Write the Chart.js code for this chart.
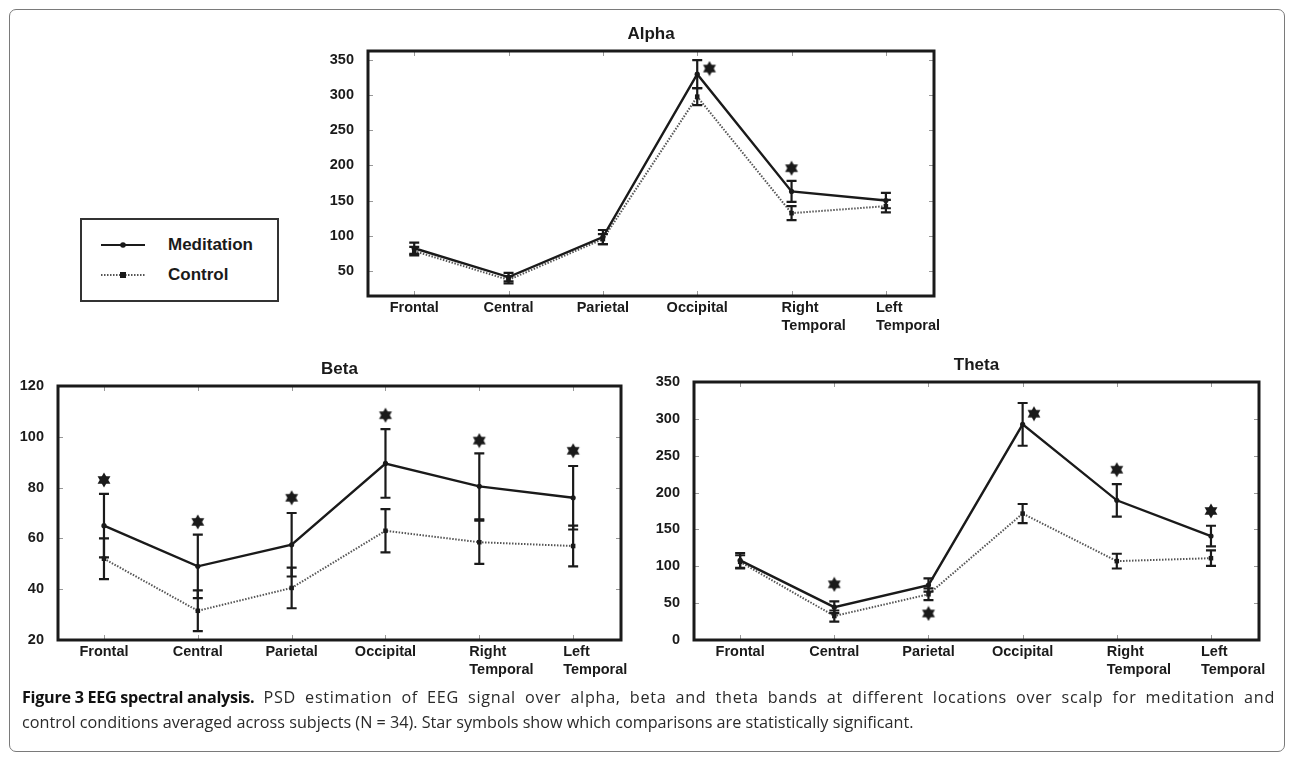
<!DOCTYPE html>
<html>
<head>
<meta charset="utf-8">
<script src="https://cdn.jsdelivr.net/npm/chart.js@4.4.0/dist/chart.umd.min.js"></script>
<style>
  html, body { margin: 0; padding: 0; background: #fff; }
  body { width: 1293px; height: 760px; position: relative; overflow: hidden; font-family: "Liberation Sans", Arial, sans-serif; }
  #frame { position: absolute; left: 9px; top: 9px; width: 1276px; height: 743px; border: 1.5px solid #7a7a7a; border-radius: 7px; box-sizing: border-box; }
  canvas { position: absolute; }
  #legend { position: absolute; left: 80px; top: 218px; width: 199px; height: 84px; border: 2px solid #333; box-sizing: border-box; }
  #legend svg { position: absolute; left: 0; top: 0; }
  #legend .lbl { position: absolute; left: 86px; font-weight: bold; font-size: 17px; color: #1a1a1a; line-height: 20px; }
  #caption { position: absolute; left: 22px; top: 685px; width: 1253px; font-family: "Open Sans", sans-serif; font-size: 16.2px; line-height: 25px; color: #2a2a2a; }
  #caption div { white-space: nowrap; }
  #caption .first { text-align: justify; text-align-last: justify; white-space: normal; letter-spacing: 0.7px; }
  #caption b { display: inline-block; color: #111; letter-spacing: -0.3px; }
</style>
</head>
<body>
<div id="frame"></div>

<canvas id="alphaChart"></canvas>
<canvas id="betaChart"></canvas>
<canvas id="thetaChart"></canvas>

<div id="legend">
  <svg width="199" height="84">
    <line x1="19" y1="25" x2="63" y2="25" stroke="#1a1a1a" stroke-width="2.2"/>
    <circle cx="41" cy="25" r="2.8" fill="#1a1a1a"/>
    <line x1="19" y1="55" x2="63" y2="55" stroke="#555" stroke-width="2" stroke-dasharray="1.5 1.5"/>
    <rect x="38" y="52" width="6" height="6" fill="#1a1a1a"/>
  </svg>
  <div class="lbl" style="top:15px">Meditation</div>
  <div class="lbl" style="top:45px">Control</div>
</div>

<div id="caption">
  <div class="first"><b>Figure 3 EEG spectral analysis.</b> PSD estimation of EEG signal over alpha, beta and theta bands at different locations over scalp for meditation and</div>
  <div>control conditions averaged across subjects (N = 34). Star symbols show which comparisons are statistically significant.</div>
</div>

<script>
const categories = ['Frontal', 'Central', 'Parietal', 'Occipital', 'Right Temporal', 'Left Temporal'];

// ---------------- Alpha ----------------
const alphaMeditation = [82, 41, 98, 330, 163, 150];
const alphaMeditationErr = [8, 6, 10, 20, 15, 11];
const alphaControl = [78, 37, 95, 298, 132, 142];
const alphaControlErr = [6, 5, 7, 12, 10, 9];
const alphaStarX = [3.13, 4];
const alphaStarY = [338, 196];
const alphaTicks = [50, 100, 150, 200, 250, 300, 350];

// ---------------- Beta ----------------
const betaMeditation = [65, 49, 57.5, 89.5, 80.5, 76];
const betaMeditationErr = [12.5, 12.5, 12.5, 13.5, 13, 12.5];
const betaControl = [52, 31.5, 40.5, 63, 58.5, 57];
const betaControlErr = [8, 8, 8, 8.5, 8.5, 8];
const betaStarX = [0, 1, 2, 3, 4, 5];
const betaStarY = [83, 66.5, 76, 108.5, 98.5, 94.5];
const betaTicks = [20, 40, 60, 80, 100, 120];

// ---------------- Theta ----------------
const thetaMeditation = [108, 44.5, 74.5, 292.5, 189.5, 141];
const thetaMeditationErr = [10, 8, 9, 29, 22, 14];
const thetaControl = [106, 32.5, 62, 171.5, 107, 111];
const thetaControlErr = [9, 7.5, 8, 13, 10, 10.5];
const thetaStarX = [1, 2, 3.12, 4, 5];
const thetaStarY = [75.5, 36, 307, 231, 175];
const thetaTicks = [0, 50, 100, 150, 200, 250, 300, 350];

const INK = '#1a1a1a';
const FONT = '"Liberation Sans", Arial, sans-serif';

// Estrella de seis puntas para marcar diferencias significativas
function makeStar() {
    const c = document.createElement('canvas');
    c.width = 16; c.height = 16;
    const g = c.getContext('2d');
    g.fillStyle = INK;
    [-90, 90].forEach(start => {
        g.beginPath();
        for (let k = 0; k < 3; k++) {
            const a = (start + k * 120) * Math.PI / 180;
            const px = 8 + 7.4 * Math.cos(a), py = 8 + 7.4 * Math.sin(a);
            k === 0 ? g.moveTo(px, py) : g.lineTo(px, py);
        }
        g.closePath();
        g.fill();
    });
    return c;
}
const starImg = makeStar();

// Barras de error, marco, marcas interiores, etiquetas y título
const eegDecor = {
    id: 'eegDecor',
    afterDatasetsDraw(chart) {
        const { ctx, scales: { x, y } } = chart;
        ctx.save();
        ctx.strokeStyle = INK;
        ctx.lineWidth = 2.2;
        chart.data.datasets.forEach(ds => {
            if (!ds.errors) return;
            ds.data.forEach((p, i) => {
                const px = x.getPixelForValue(p.x);
                const hi = y.getPixelForValue(p.y + ds.errors[i]);
                const lo = y.getPixelForValue(p.y - ds.errors[i]);
                ctx.beginPath();
                ctx.moveTo(px, hi); ctx.lineTo(px, lo);
                ctx.moveTo(px - 5, hi); ctx.lineTo(px + 5, hi);
                ctx.moveTo(px - 5, lo); ctx.lineTo(px + 5, lo);
                ctx.stroke();
            });
        });
        ctx.restore();
    },
    afterDraw(chart, args, opts) {
        const { ctx, chartArea: a, scales: { x, y } } = chart;
        ctx.save();

        ctx.strokeStyle = '#999';
        ctx.lineWidth = 1;
        ctx.beginPath();
        categories.forEach((c, i) => {
            const px = Math.round(x.getPixelForValue(i)) + 0.5;
            ctx.moveTo(px, a.bottom); ctx.lineTo(px, a.bottom - 5);
            ctx.moveTo(px, a.top); ctx.lineTo(px, a.top + 5);
        });
        y.ticks.forEach(t => {
            const py = Math.round(y.getPixelForValue(t.value)) + 0.5;
            ctx.moveTo(a.left, py); ctx.lineTo(a.left + 5, py);
            ctx.moveTo(a.right, py); ctx.lineTo(a.right - 5, py);
        });
        ctx.stroke();

        ctx.strokeStyle = INK;
        ctx.lineWidth = 3;
        ctx.strokeRect(a.left, a.top, a.right - a.left, a.bottom - a.top);

        ctx.fillStyle = INK;
        ctx.font = 'bold 14.5px ' + FONT;
        ctx.textBaseline = 'middle';
        categories.forEach((c, i) => {
            const px = x.getPixelForValue(i);
            const lines = c.split(' ');
            if (lines.length === 1) {
                ctx.textAlign = 'center';
                ctx.fillText(c, px, a.bottom + 12);
            } else {
                ctx.textAlign = 'left';
                lines.forEach((l, k) => ctx.fillText(l, px - 10, a.bottom + 12 + k * 18));
            }
        });

        ctx.font = 'bold 17px ' + FONT;
        ctx.textAlign = 'center';
        ctx.fillText(opts.title, (a.left + a.right) / 2, a.top - 17);
        ctx.restore();
    }
};

const PAD_L = 50, PAD_T = 40, PAD_R = 15, PAD_B = 55;

function createEegChart({ id, box, title, med, medErr, ctrl, ctrlErr, starX, starY, ticks, yMin, yMax }) {
    const el = document.getElementById(id);
    el.width = box.right - box.left + PAD_L + PAD_R;
    el.height = box.bottom - box.top + PAD_T + PAD_B;
    el.style.left = (box.left - PAD_L) + 'px';
    el.style.top = (box.top - PAD_T) + 'px';

    const toPoints = vals => vals.map((v, i) => ({ x: i, y: v }));

    new Chart(el, {
        type: 'line',
        data: {
            datasets: [
                {
                    label: 'Meditation',
                    data: toPoints(med),
                    errors: medErr,
                    borderColor: INK,
                    borderWidth: 2.4,
                    pointRadius: 2.6,
                    pointBackgroundColor: INK,
                    pointBorderWidth: 0,
                    tension: 0
                },
                {
                    label: 'Control',
                    data: toPoints(ctrl),
                    errors: ctrlErr,
                    borderColor: '#555',
                    borderWidth: 2,
                    borderDash: [1.5, 1.5],
                    pointStyle: 'rect',
                    pointRadius: 3.2,
                    pointBackgroundColor: INK,
                    pointBorderColor: INK,
                    pointBorderWidth: 0,
                    tension: 0
                },
                {
                    label: 'Significant',
                    data: starX.map((sx, i) => ({ x: sx, y: starY[i] })),
                    showLine: false,
                    pointStyle: starImg,
                    pointRadius: 7
                }
            ]
        },
        options: {
            responsive: false,
            animation: false,
            layout: { padding: { top: PAD_T, right: PAD_R, left: 0, bottom: 0 } },
            plugins: {
                legend: { display: false },
                tooltip: { enabled: false },
                eegDecor: { title }
            },
            scales: {
                x: {
                    type: 'linear',
                    min: -0.49,
                    max: 5.51,
                    grid: { display: false },
                    border: { display: false },
                    ticks: { display: false },
                    afterFit: s => { s.height = PAD_B; }
                },
                y: {
                    min: yMin,
                    max: yMax,
                    grid: { display: false },
                    border: { display: false },
                    afterBuildTicks: s => { s.ticks = ticks.map(v => ({ value: v })); },
                    ticks: {
                        color: INK,
                        padding: 6,
                        font: { family: FONT, weight: 'bold', size: 14.5 }
                    },
                    afterFit: s => { s.width = PAD_L; }
                }
            }
        },
        plugins: [eegDecor]
    });
}

createEegChart({
    id: 'alphaChart', title: 'Alpha',
    box: { left: 368, top: 51, right: 934, bottom: 296 },
    med: alphaMeditation, medErr: alphaMeditationErr,
    ctrl: alphaControl, ctrlErr: alphaControlErr,
    starX: alphaStarX, starY: alphaStarY,
    ticks: alphaTicks, yMin: 14, yMax: 363
});

createEegChart({
    id: 'betaChart', title: 'Beta',
    box: { left: 58, top: 386, right: 621, bottom: 640 },
    med: betaMeditation, medErr: betaMeditationErr,
    ctrl: betaControl, ctrlErr: betaControlErr,
    starX: betaStarX, starY: betaStarY,
    ticks: betaTicks, yMin: 20, yMax: 120
});

createEegChart({
    id: 'thetaChart', title: 'Theta',
    box: { left: 694, top: 382, right: 1259, bottom: 640 },
    med: thetaMeditation, medErr: thetaMeditationErr,
    ctrl: thetaControl, ctrlErr: thetaControlErr,
    starX: thetaStarX, starY: thetaStarY,
    ticks: thetaTicks, yMin: 0, yMax: 350
});
</script>
</body>
</html>
